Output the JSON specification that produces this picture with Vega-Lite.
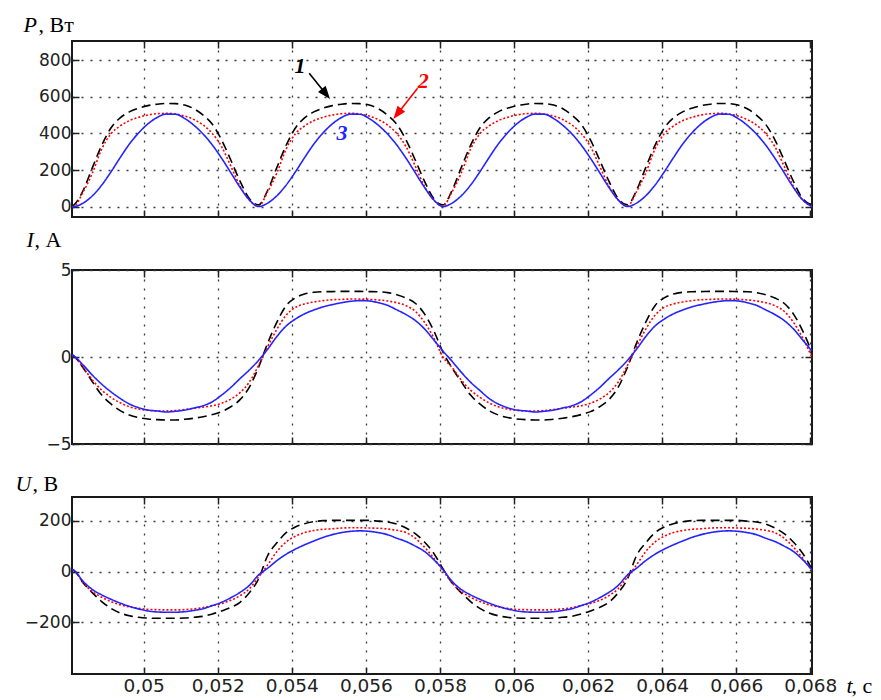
{
"$schema": "https://vega.github.io/schema/vega-lite/v6.json",
"background": "white",
"padding": {"left": 14, "top": 12, "right": 0, "bottom": 0},
"config": {
 "view": {"stroke": "#1a1a1a", "strokeWidth": 2},
 "axis": {"domain": false, "tickColor": "#222", "tickWidth": 1.5, "tickSize": -7, "gridColor": "#3a3a3a", "gridDash": [2, 7], "gridWidth": 1.3, "labelFont": "DejaVu Sans", "labelColor": "#222", "labelFontSize": 17, "titleFont": "Liberation Serif", "titleFontWeight": "normal", "titleColor": "#000", "titleFontSize": 22, "titleAngle": 0, "titleAlign": "left", "titleBaseline": "alphabetic"}
},
"datasets": {
 "w": [
{"t":0.048065,"s":"1","P":2,"I":0.15,"U":8},
{"t":0.04812,"s":"1","P":10,"I":0.05,"U":4},
{"t":0.048369,"s":"1","P":90,"I":-0.63,"U":-45},
{"t":0.048618,"s":"1","P":215,"I":-1.43,"U":-84},
{"t":0.048867,"s":"1","P":335,"I":-2.19,"U":-118},
{"t":0.049116,"s":"1","P":430,"I":-2.7,"U":-145},
{"t":0.049365,"s":"1","P":485,"I":-3.08,"U":-163},
{"t":0.049614,"s":"1","P":518,"I":-3.33,"U":-174},
{"t":0.049863,"s":"1","P":538,"I":-3.48,"U":-180},
{"t":0.050112,"s":"1","P":552,"I":-3.56,"U":-183},
{"t":0.050361,"s":"1","P":560,"I":-3.6,"U":-184},
{"t":0.05061,"s":"1","P":564,"I":-3.62,"U":-184},
{"t":0.050859,"s":"1","P":563,"I":-3.62,"U":-184},
{"t":0.051108,"s":"1","P":555,"I":-3.58,"U":-183},
{"t":0.051357,"s":"1","P":535,"I":-3.52,"U":-180},
{"t":0.051606,"s":"1","P":500,"I":-3.43,"U":-176},
{"t":0.051855,"s":"1","P":450,"I":-3.31,"U":-167},
{"t":0.052104,"s":"1","P":365,"I":-3.14,"U":-155},
{"t":0.052353,"s":"1","P":255,"I":-2.86,"U":-141},
{"t":0.052602,"s":"1","P":140,"I":-2.45,"U":-121},
{"t":0.052851,"s":"1","P":45,"I":-1.75,"U":-84},
{"t":0.0531,"s":"1","P":10,"I":-0.6,"U":-30},
{"t":0.053349,"s":"1","P":90,"I":0.8,"U":63},
{"t":0.053598,"s":"1","P":215,"I":2.0,"U":113},
{"t":0.053847,"s":"1","P":335,"I":2.95,"U":153},
{"t":0.054096,"s":"1","P":430,"I":3.4,"U":175},
{"t":0.054345,"s":"1","P":485,"I":3.62,"U":188},
{"t":0.054594,"s":"1","P":518,"I":3.72,"U":196},
{"t":0.054843,"s":"1","P":538,"I":3.75,"U":200},
{"t":0.055092,"s":"1","P":552,"I":3.76,"U":201},
{"t":0.055341,"s":"1","P":560,"I":3.77,"U":201},
{"t":0.05559,"s":"1","P":564,"I":3.77,"U":201},
{"t":0.055839,"s":"1","P":563,"I":3.77,"U":201},
{"t":0.056088,"s":"1","P":555,"I":3.76,"U":201},
{"t":0.056337,"s":"1","P":535,"I":3.75,"U":198},
{"t":0.056586,"s":"1","P":500,"I":3.7,"U":195},
{"t":0.056835,"s":"1","P":450,"I":3.58,"U":187},
{"t":0.057084,"s":"1","P":365,"I":3.39,"U":171},
{"t":0.057333,"s":"1","P":255,"I":3.09,"U":149},
{"t":0.057582,"s":"1","P":140,"I":2.48,"U":116},
{"t":0.057831,"s":"1","P":45,"I":1.52,"U":72},
{"t":0.05808,"s":"1","P":10,"I":0.29,"U":11},
{"t":0.058329,"s":"1","P":90,"I":-0.63,"U":-45},
{"t":0.058578,"s":"1","P":215,"I":-1.43,"U":-84},
{"t":0.058827,"s":"1","P":335,"I":-2.19,"U":-118},
{"t":0.059076,"s":"1","P":430,"I":-2.7,"U":-145},
{"t":0.059325,"s":"1","P":485,"I":-3.08,"U":-163},
{"t":0.059574,"s":"1","P":518,"I":-3.33,"U":-174},
{"t":0.059823,"s":"1","P":538,"I":-3.48,"U":-180},
{"t":0.060072,"s":"1","P":552,"I":-3.56,"U":-183},
{"t":0.060321,"s":"1","P":560,"I":-3.6,"U":-184},
{"t":0.06057,"s":"1","P":564,"I":-3.62,"U":-184},
{"t":0.060819,"s":"1","P":563,"I":-3.62,"U":-184},
{"t":0.061068,"s":"1","P":555,"I":-3.58,"U":-183},
{"t":0.061317,"s":"1","P":535,"I":-3.52,"U":-180},
{"t":0.061566,"s":"1","P":500,"I":-3.43,"U":-176},
{"t":0.061815,"s":"1","P":450,"I":-3.31,"U":-167},
{"t":0.062064,"s":"1","P":365,"I":-3.14,"U":-155},
{"t":0.062313,"s":"1","P":255,"I":-2.86,"U":-141},
{"t":0.062562,"s":"1","P":140,"I":-2.45,"U":-121},
{"t":0.062811,"s":"1","P":45,"I":-1.75,"U":-84},
{"t":0.06306,"s":"1","P":10,"I":-0.6,"U":-30},
{"t":0.063309,"s":"1","P":90,"I":0.8,"U":63},
{"t":0.063558,"s":"1","P":215,"I":2.0,"U":113},
{"t":0.063807,"s":"1","P":335,"I":2.95,"U":153},
{"t":0.064056,"s":"1","P":430,"I":3.4,"U":175},
{"t":0.064305,"s":"1","P":485,"I":3.62,"U":188},
{"t":0.064554,"s":"1","P":518,"I":3.72,"U":196},
{"t":0.064803,"s":"1","P":538,"I":3.75,"U":200},
{"t":0.065052,"s":"1","P":552,"I":3.76,"U":201},
{"t":0.065301,"s":"1","P":560,"I":3.77,"U":201},
{"t":0.06555,"s":"1","P":564,"I":3.77,"U":201},
{"t":0.065799,"s":"1","P":563,"I":3.77,"U":201},
{"t":0.066048,"s":"1","P":555,"I":3.76,"U":201},
{"t":0.066297,"s":"1","P":535,"I":3.75,"U":198},
{"t":0.066546,"s":"1","P":500,"I":3.7,"U":195},
{"t":0.066795,"s":"1","P":450,"I":3.58,"U":187},
{"t":0.067044,"s":"1","P":365,"I":3.39,"U":171},
{"t":0.067293,"s":"1","P":255,"I":3.09,"U":149},
{"t":0.067542,"s":"1","P":140,"I":2.48,"U":116},
{"t":0.067791,"s":"1","P":45,"I":1.52,"U":72},
{"t":0.06804,"s":"1","P":10,"I":0.29,"U":11},
{"t":0.048065,"s":"2","P":1,"I":0.12,"U":8},
{"t":0.04812,"s":"2","P":3,"I":0.03,"U":4},
{"t":0.048369,"s":"2","P":82,"I":-0.61,"U":-45},
{"t":0.048618,"s":"2","P":185,"I":-1.33,"U":-79},
{"t":0.048867,"s":"2","P":315,"I":-1.9,"U":-101},
{"t":0.049116,"s":"2","P":398,"I":-2.32,"U":-118},
{"t":0.049365,"s":"2","P":441,"I":-2.63,"U":-131},
{"t":0.049614,"s":"2","P":470,"I":-2.86,"U":-139},
{"t":0.049863,"s":"2","P":488,"I":-2.99,"U":-145},
{"t":0.050112,"s":"2","P":501,"I":-3.06,"U":-149},
{"t":0.050361,"s":"2","P":508,"I":-3.1,"U":-150},
{"t":0.05061,"s":"2","P":510,"I":-3.1,"U":-151},
{"t":0.050859,"s":"2","P":507,"I":-3.08,"U":-151},
{"t":0.051108,"s":"2","P":495,"I":-3.02,"U":-150},
{"t":0.051357,"s":"2","P":476,"I":-2.95,"U":-147},
{"t":0.051606,"s":"2","P":446,"I":-2.88,"U":-142},
{"t":0.051855,"s":"2","P":400,"I":-2.8,"U":-134},
{"t":0.052104,"s":"2","P":328,"I":-2.66,"U":-126},
{"t":0.052353,"s":"2","P":222,"I":-2.42,"U":-113},
{"t":0.052602,"s":"2","P":112,"I":-2.05,"U":-95},
{"t":0.052851,"s":"2","P":37,"I":-1.45,"U":-68},
{"t":0.0531,"s":"2","P":3,"I":-0.5,"U":-22},
{"t":0.053349,"s":"2","P":82,"I":0.6,"U":26},
{"t":0.053598,"s":"2","P":185,"I":1.6,"U":79},
{"t":0.053847,"s":"2","P":315,"I":2.4,"U":116},
{"t":0.054096,"s":"2","P":398,"I":2.85,"U":139},
{"t":0.054345,"s":"2","P":441,"I":3.05,"U":153},
{"t":0.054594,"s":"2","P":470,"I":3.16,"U":161},
{"t":0.054843,"s":"2","P":488,"I":3.24,"U":166},
{"t":0.055092,"s":"2","P":501,"I":3.29,"U":168},
{"t":0.055341,"s":"2","P":508,"I":3.31,"U":171},
{"t":0.05559,"s":"2","P":510,"I":3.33,"U":172},
{"t":0.055839,"s":"2","P":507,"I":3.33,"U":172},
{"t":0.056088,"s":"2","P":495,"I":3.31,"U":171},
{"t":0.056337,"s":"2","P":476,"I":3.28,"U":170},
{"t":0.056586,"s":"2","P":446,"I":3.22,"U":167},
{"t":0.056835,"s":"2","P":400,"I":3.12,"U":162},
{"t":0.057084,"s":"2","P":328,"I":2.95,"U":153},
{"t":0.057333,"s":"2","P":222,"I":2.63,"U":131},
{"t":0.057582,"s":"2","P":112,"I":2.0,"U":96},
{"t":0.057831,"s":"2","P":37,"I":1.11,"U":53},
{"t":0.05808,"s":"2","P":3,"I":0.0,"U":4},
{"t":0.058329,"s":"2","P":82,"I":-0.61,"U":-45},
{"t":0.058578,"s":"2","P":185,"I":-1.33,"U":-79},
{"t":0.058827,"s":"2","P":315,"I":-1.9,"U":-101},
{"t":0.059076,"s":"2","P":398,"I":-2.32,"U":-118},
{"t":0.059325,"s":"2","P":441,"I":-2.63,"U":-131},
{"t":0.059574,"s":"2","P":470,"I":-2.86,"U":-139},
{"t":0.059823,"s":"2","P":488,"I":-2.99,"U":-145},
{"t":0.060072,"s":"2","P":501,"I":-3.06,"U":-149},
{"t":0.060321,"s":"2","P":508,"I":-3.1,"U":-150},
{"t":0.06057,"s":"2","P":510,"I":-3.1,"U":-151},
{"t":0.060819,"s":"2","P":507,"I":-3.08,"U":-151},
{"t":0.061068,"s":"2","P":495,"I":-3.02,"U":-150},
{"t":0.061317,"s":"2","P":476,"I":-2.95,"U":-147},
{"t":0.061566,"s":"2","P":446,"I":-2.88,"U":-142},
{"t":0.061815,"s":"2","P":400,"I":-2.8,"U":-134},
{"t":0.062064,"s":"2","P":328,"I":-2.66,"U":-126},
{"t":0.062313,"s":"2","P":222,"I":-2.42,"U":-113},
{"t":0.062562,"s":"2","P":112,"I":-2.05,"U":-95},
{"t":0.062811,"s":"2","P":37,"I":-1.45,"U":-68},
{"t":0.06306,"s":"2","P":3,"I":-0.5,"U":-22},
{"t":0.063309,"s":"2","P":82,"I":0.6,"U":26},
{"t":0.063558,"s":"2","P":185,"I":1.6,"U":79},
{"t":0.063807,"s":"2","P":315,"I":2.4,"U":116},
{"t":0.064056,"s":"2","P":398,"I":2.85,"U":139},
{"t":0.064305,"s":"2","P":441,"I":3.05,"U":153},
{"t":0.064554,"s":"2","P":470,"I":3.16,"U":161},
{"t":0.064803,"s":"2","P":488,"I":3.24,"U":166},
{"t":0.065052,"s":"2","P":501,"I":3.29,"U":168},
{"t":0.065301,"s":"2","P":508,"I":3.31,"U":171},
{"t":0.06555,"s":"2","P":510,"I":3.33,"U":172},
{"t":0.065799,"s":"2","P":507,"I":3.33,"U":172},
{"t":0.066048,"s":"2","P":495,"I":3.31,"U":171},
{"t":0.066297,"s":"2","P":476,"I":3.28,"U":170},
{"t":0.066546,"s":"2","P":446,"I":3.22,"U":167},
{"t":0.066795,"s":"2","P":400,"I":3.12,"U":162},
{"t":0.067044,"s":"2","P":328,"I":2.95,"U":153},
{"t":0.067293,"s":"2","P":222,"I":2.63,"U":131},
{"t":0.067542,"s":"2","P":112,"I":2.0,"U":96},
{"t":0.067791,"s":"2","P":37,"I":1.11,"U":53},
{"t":0.06804,"s":"2","P":3,"I":0.0,"U":4},
{"t":0.048065,"s":"3","P":0,"I":0.12,"U":8},
{"t":0.04812,"s":"3","P":1,"I":0.05,"U":4},
{"t":0.048369,"s":"3","P":20,"I":-0.47,"U":-39},
{"t":0.048618,"s":"3","P":60,"I":-1.05,"U":-71},
{"t":0.048867,"s":"3","P":118,"I":-1.56,"U":-92},
{"t":0.049116,"s":"3","P":190,"I":-2.0,"U":-109},
{"t":0.049365,"s":"3","P":268,"I":-2.38,"U":-124},
{"t":0.049614,"s":"3","P":342,"I":-2.7,"U":-137},
{"t":0.049863,"s":"3","P":403,"I":-2.91,"U":-147},
{"t":0.050112,"s":"3","P":452,"I":-3.05,"U":-155},
{"t":0.050361,"s":"3","P":487,"I":-3.1,"U":-159},
{"t":0.05061,"s":"3","P":506,"I":-3.16,"U":-160},
{"t":0.050859,"s":"3","P":505,"I":-3.12,"U":-160},
{"t":0.051108,"s":"3","P":482,"I":-3.05,"U":-158},
{"t":0.051357,"s":"3","P":445,"I":-2.93,"U":-153},
{"t":0.051606,"s":"3","P":397,"I":-2.8,"U":-146},
{"t":0.051855,"s":"3","P":337,"I":-2.57,"U":-134},
{"t":0.052104,"s":"3","P":265,"I":-2.19,"U":-121},
{"t":0.052353,"s":"3","P":186,"I":-1.75,"U":-103},
{"t":0.052602,"s":"3","P":106,"I":-1.24,"U":-82},
{"t":0.052851,"s":"3","P":38,"I":-0.75,"U":-55},
{"t":0.0531,"s":"3","P":1,"I":-0.2,"U":-14},
{"t":0.053349,"s":"3","P":20,"I":0.45,"U":13},
{"t":0.053598,"s":"3","P":60,"I":1.18,"U":43},
{"t":0.053847,"s":"3","P":118,"I":1.78,"U":68},
{"t":0.054096,"s":"3","P":190,"I":2.18,"U":88},
{"t":0.054345,"s":"3","P":268,"I":2.48,"U":105},
{"t":0.054594,"s":"3","P":342,"I":2.7,"U":120},
{"t":0.054843,"s":"3","P":403,"I":2.88,"U":134},
{"t":0.055092,"s":"3","P":452,"I":3.01,"U":145},
{"t":0.055341,"s":"3","P":487,"I":3.12,"U":153},
{"t":0.05559,"s":"3","P":506,"I":3.2,"U":158},
{"t":0.055839,"s":"3","P":505,"I":3.24,"U":160},
{"t":0.056088,"s":"3","P":482,"I":3.22,"U":158},
{"t":0.056337,"s":"3","P":445,"I":3.12,"U":153},
{"t":0.056586,"s":"3","P":397,"I":2.97,"U":145},
{"t":0.056835,"s":"3","P":337,"I":2.71,"U":131},
{"t":0.057084,"s":"3","P":265,"I":2.44,"U":118},
{"t":0.057333,"s":"3","P":186,"I":2.1,"U":100},
{"t":0.057582,"s":"3","P":106,"I":1.62,"U":79},
{"t":0.057831,"s":"3","P":38,"I":0.99,"U":47},
{"t":0.05808,"s":"3","P":1,"I":0.35,"U":8},
{"t":0.058329,"s":"3","P":20,"I":-0.25,"U":-39},
{"t":0.058578,"s":"3","P":60,"I":-0.88,"U":-71},
{"t":0.058827,"s":"3","P":118,"I":-1.45,"U":-92},
{"t":0.059076,"s":"3","P":190,"I":-1.92,"U":-109},
{"t":0.059325,"s":"3","P":268,"I":-2.38,"U":-124},
{"t":0.059574,"s":"3","P":342,"I":-2.7,"U":-137},
{"t":0.059823,"s":"3","P":403,"I":-2.91,"U":-147},
{"t":0.060072,"s":"3","P":452,"I":-3.05,"U":-155},
{"t":0.060321,"s":"3","P":487,"I":-3.1,"U":-159},
{"t":0.06057,"s":"3","P":506,"I":-3.16,"U":-160},
{"t":0.060819,"s":"3","P":505,"I":-3.12,"U":-160},
{"t":0.061068,"s":"3","P":482,"I":-3.05,"U":-158},
{"t":0.061317,"s":"3","P":445,"I":-2.93,"U":-153},
{"t":0.061566,"s":"3","P":397,"I":-2.8,"U":-146},
{"t":0.061815,"s":"3","P":337,"I":-2.57,"U":-134},
{"t":0.062064,"s":"3","P":265,"I":-2.19,"U":-121},
{"t":0.062313,"s":"3","P":186,"I":-1.75,"U":-103},
{"t":0.062562,"s":"3","P":106,"I":-1.24,"U":-82},
{"t":0.062811,"s":"3","P":38,"I":-0.75,"U":-55},
{"t":0.06306,"s":"3","P":1,"I":-0.2,"U":-14},
{"t":0.063309,"s":"3","P":20,"I":0.45,"U":13},
{"t":0.063558,"s":"3","P":60,"I":1.18,"U":43},
{"t":0.063807,"s":"3","P":118,"I":1.78,"U":68},
{"t":0.064056,"s":"3","P":190,"I":2.18,"U":88},
{"t":0.064305,"s":"3","P":268,"I":2.48,"U":105},
{"t":0.064554,"s":"3","P":342,"I":2.7,"U":120},
{"t":0.064803,"s":"3","P":403,"I":2.88,"U":134},
{"t":0.065052,"s":"3","P":452,"I":3.01,"U":145},
{"t":0.065301,"s":"3","P":487,"I":3.12,"U":153},
{"t":0.06555,"s":"3","P":506,"I":3.2,"U":158},
{"t":0.065799,"s":"3","P":505,"I":3.24,"U":160},
{"t":0.066048,"s":"3","P":482,"I":3.22,"U":158},
{"t":0.066297,"s":"3","P":445,"I":3.12,"U":153},
{"t":0.066546,"s":"3","P":397,"I":2.97,"U":145},
{"t":0.066795,"s":"3","P":337,"I":2.71,"U":131},
{"t":0.067044,"s":"3","P":265,"I":2.44,"U":118},
{"t":0.067293,"s":"3","P":186,"I":2.1,"U":100},
{"t":0.067542,"s":"3","P":106,"I":1.62,"U":79},
{"t":0.067791,"s":"3","P":38,"I":0.99,"U":47},
{"t":0.06804,"s":"3","P":1,"I":0.35,"U":8}
 ],
 "labs": [
  {"s":"1","t":0.054219,"P":769,"txt":"1"},
  {"s":"2","t":0.057552,"P":687,"txt":"2"},
  {"s":"3","t":0.055352,"P":403,"txt":"3"}
 ],
 "arrows": [
  {"s":"1","t":0.05447,"P":729,"t2":0.054921,"P2":616},
  {"s":"2","t":0.057396,"P":647,"t2":0.05685,"P2":507}
 ]
},
"spacing": 53,
"bounds": "flush",
"vconcat": [
 {
  "width": 740, "height": 176,
  "layer": [
   {
    "data": {"name": "w"},
    "mark": {"type": "line", "interpolate": "monotone", "strokeWidth": 1.6, "clip": true},
    "encoding": {
     "x": {"field": "t", "type": "quantitative", "scale": {"domain": [0.048065, 0.068046], "nice": false, "zero": false},
           "axis": {"orient": "bottom", "values": [0.05,0.052,0.054,0.056,0.058,0.06,0.062,0.064,0.066,0.068], "grid": true, "labels": false, "title": null}},
     "y": {"field": "P", "type": "quantitative", "scale": {"domain": [-56, 905], "nice": false, "zero": false},
           "axis": {"orient": "left", "values": [0,200,400,600,800], "grid": true, "labelPadding": 8, "title": "P", "titleFontStyle": "italic", "titleX": -49, "titleY": -10}},
     "color": {"field": "s", "type": "nominal", "scale": {"domain": ["1","2","3"], "range": ["#000000","#ff0000","#2424ff"]}, "legend": null},
     "strokeDash": {"field": "s", "type": "nominal", "scale": {"domain": ["1","2","3"], "range": [[9,5],[2,2],[1,0]]}, "legend": null}
    }
   },
   {
    "data": {"name": "w"},
    "mark": {"type": "line", "opacity": 0},
    "encoding": {
     "x": {"field": "t", "type": "quantitative", "scale": {"domain": [0.048065, 0.068046], "nice": false, "zero": false},
           "axis": {"orient": "top", "values": [0.05,0.052,0.054,0.056,0.058,0.06,0.062,0.064,0.066,0.068], "grid": false, "labels": false, "title": ", Вт", "titleX": -34, "titleY": -10}},
     "y": {"field": "P", "type": "quantitative", "scale": {"domain": [-56, 905], "nice": false, "zero": false},
           "axis": {"orient": "right", "values": [0,200,400,600,800], "grid": false, "labels": false, "title": null}}
    }
   },
   {
    "data": {"name": "arrows"},
    "mark": {"type": "rule", "strokeWidth": 1.6},
    "encoding": {
     "x": {"field": "t", "type": "quantitative", "axis": null},
     "y": {"field": "P", "type": "quantitative", "axis": null},
     "x2": {"field": "t2"},
     "y2": {"field": "P2"},
     "color": {"field": "s", "type": "nominal", "legend": null}
    }
   },
   {
    "data": {"name": "arrows"},
    "transform": [{"filter": "datum.s == '1'"}],
    "mark": {"type": "point", "shape": "M0,-1L0.75,1L-0.75,1Z", "filled": true, "size": 169, "angle": 141, "opacity": 1},
    "encoding": {
     "x": {"field": "t2", "type": "quantitative", "axis": null},
     "y": {"field": "P2", "type": "quantitative", "axis": null},
     "color": {"field": "s", "type": "nominal", "legend": null}
    }
   },
   {
    "data": {"name": "arrows"},
    "transform": [{"filter": "datum.s == '2'"}],
    "mark": {"type": "point", "shape": "M0,-1L0.75,1L-0.75,1Z", "filled": true, "size": 169, "angle": 218, "opacity": 1},
    "encoding": {
     "x": {"field": "t2", "type": "quantitative", "axis": null},
     "y": {"field": "P2", "type": "quantitative", "axis": null},
     "color": {"field": "s", "type": "nominal", "legend": null}
    }
   },
   {
    "data": {"name": "labs"},
    "mark": {"type": "text", "font": "Liberation Serif", "fontStyle": "italic", "fontWeight": "bold", "fontSize": 22, "baseline": "middle", "align": "center"},
    "encoding": {
     "x": {"field": "t", "type": "quantitative", "axis": null},
     "y": {"field": "P", "type": "quantitative", "axis": null},
     "text": {"field": "txt"},
     "color": {"field": "s", "type": "nominal", "legend": null}
    }
   }
  ],
  "resolve": {"axis": {"x": "independent", "y": "independent"}}
 },
 {
  "width": 740, "height": 174,
  "data": {"name": "w"},
  "layer": [
   {
    "mark": {"type": "line", "interpolate": "monotone", "strokeWidth": 1.6, "clip": true},
    "encoding": {
     "x": {"field": "t", "type": "quantitative", "scale": {"domain": [0.048065, 0.068046], "nice": false, "zero": false},
           "axis": {"orient": "bottom", "values": [0.05,0.052,0.054,0.056,0.058,0.06,0.062,0.064,0.066,0.068], "grid": true, "labels": false, "title": null}},
     "y": {"field": "I", "type": "quantitative", "scale": {"domain": [-5, 5], "nice": false, "zero": false},
           "axis": {"orient": "left", "values": [-5,0,5], "grid": true, "labelPadding": 8, "title": "I", "titleFontStyle": "italic", "titleX": -46, "titleY": -24}},
     "color": {"field": "s", "type": "nominal", "scale": {"domain": ["1","2","3"], "range": ["#000000","#ff0000","#2424ff"]}, "legend": null},
     "strokeDash": {"field": "s", "type": "nominal", "scale": {"domain": ["1","2","3"], "range": [[9,5],[2,2],[1,0]]}, "legend": null}
    }
   },
   {
    "mark": {"type": "line", "opacity": 0},
    "encoding": {
     "x": {"field": "t", "type": "quantitative", "scale": {"domain": [0.048065, 0.068046], "nice": false, "zero": false},
           "axis": {"orient": "top", "values": [0.05,0.052,0.054,0.056,0.058,0.06,0.062,0.064,0.066,0.068], "grid": false, "labels": false, "title": ", А", "titleX": -38, "titleY": -24}},
     "y": {"field": "I", "type": "quantitative", "scale": {"domain": [-5, 5], "nice": false, "zero": false},
           "axis": {"orient": "right", "values": [-5,0,5], "grid": false, "labels": false, "title": null}}
    }
   }
  ],
  "resolve": {"axis": {"x": "independent", "y": "independent"}}
 },
 {
  "width": 740, "height": 177,
  "data": {"name": "w"},
  "layer": [
   {
    "mark": {"type": "line", "interpolate": "monotone", "strokeWidth": 1.6, "clip": true},
    "encoding": {
     "x": {"field": "t", "type": "quantitative", "scale": {"domain": [0.048065, 0.068046], "nice": false, "zero": false},
           "axis": {"orient": "bottom", "values": [0.05,0.052,0.054,0.056,0.058,0.06,0.062,0.064,0.066,0.068], "grid": true, "labels": true, "labelFontSize": 18.5, "labelPadding": 9, "labelFlush": false, "labelExpr": "replace(format(datum.value, '.3~f'), '.', ',')", "title": "t", "titleFontStyle": "italic", "titleX": 774, "titleY": 18}},
     "y": {"field": "U", "type": "quantitative", "scale": {"domain": [-403, 293], "nice": false, "zero": false},
           "axis": {"orient": "left", "values": [-200,0,200], "grid": true, "labelPadding": 8, "title": "U", "titleFontStyle": "italic", "titleX": -57, "titleY": -7}},
     "color": {"field": "s", "type": "nominal", "scale": {"domain": ["1","2","3"], "range": ["#000000","#ff0000","#2424ff"]}, "legend": null},
     "strokeDash": {"field": "s", "type": "nominal", "scale": {"domain": ["1","2","3"], "range": [[9,5],[2,2],[1,0]]}, "legend": null}
    }
   },
   {
    "mark": {"type": "line", "opacity": 0},
    "encoding": {
     "x": {"field": "t", "type": "quantitative", "scale": {"domain": [0.048065, 0.068046], "nice": false, "zero": false},
           "axis": {"orient": "top", "values": [0.05,0.052,0.054,0.056,0.058,0.06,0.062,0.064,0.066,0.068], "grid": false, "labels": false, "title": ", В", "titleX": -40, "titleY": -7}},
     "y": {"field": "U", "type": "quantitative", "scale": {"domain": [-403, 293], "nice": false, "zero": false},
           "axis": {"orient": "right", "values": [-200,0,200], "grid": false, "labels": false, "title": ", с", "titleX": 39, "titleY": 195}}
    }
   }
  ],
  "resolve": {"axis": {"x": "independent", "y": "independent"}}
 }
]
}
